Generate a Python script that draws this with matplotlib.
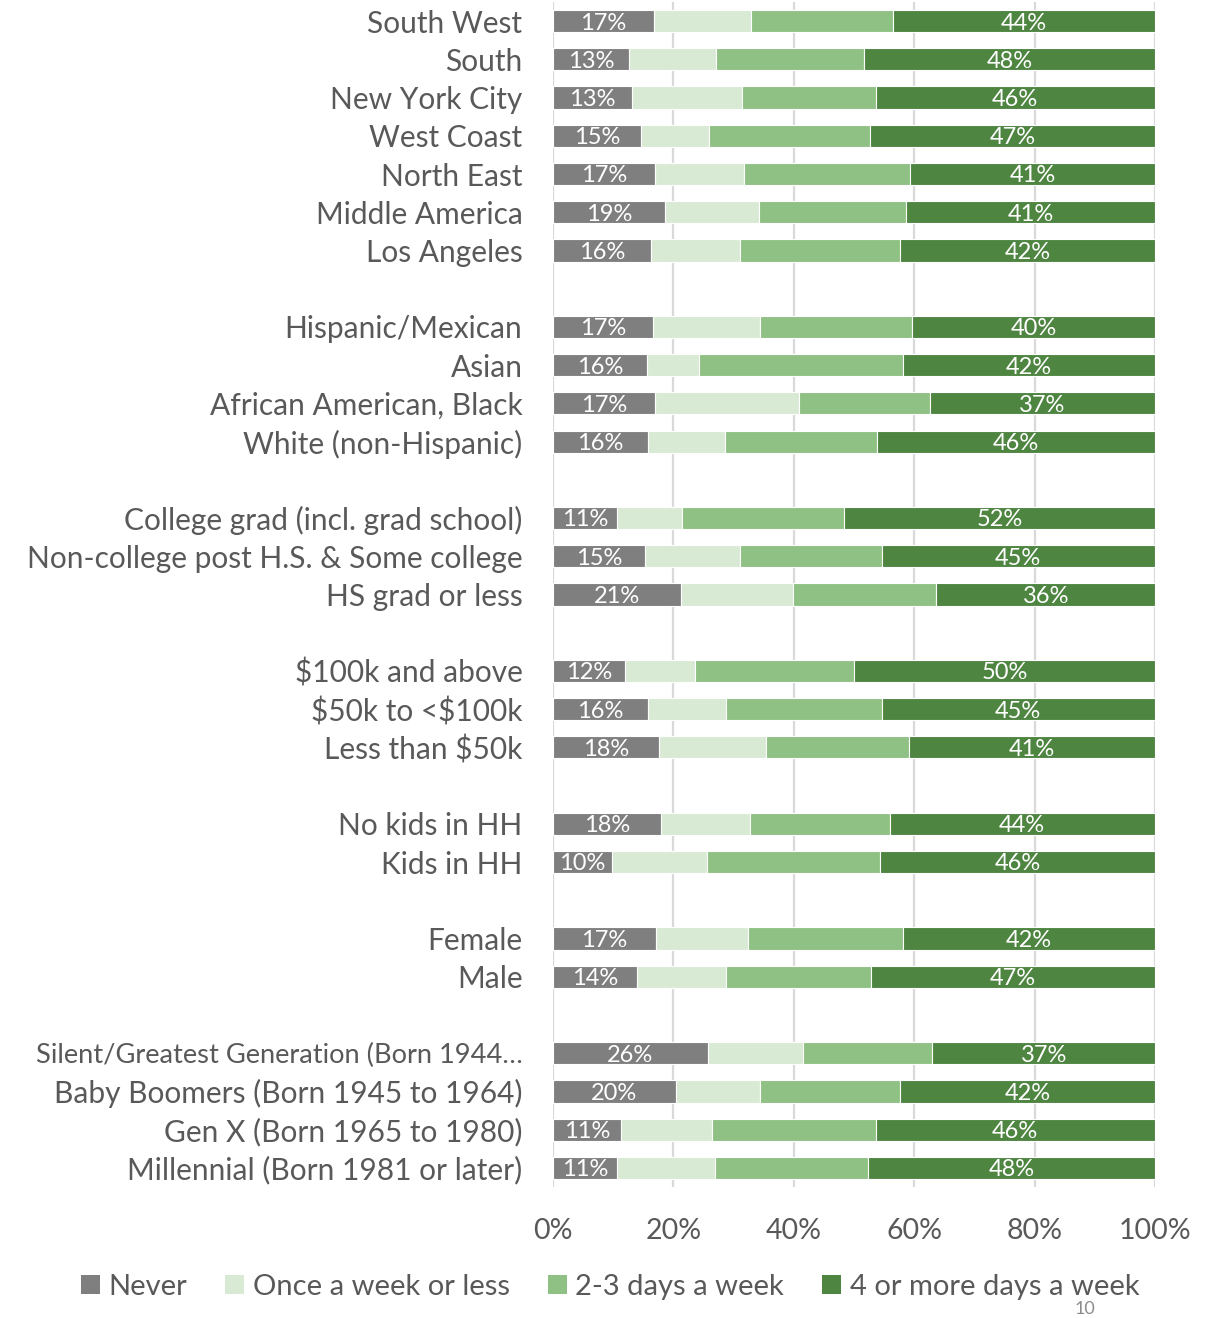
import numpy as np
import matplotlib.pyplot as plt
from matplotlib.patches import Patch

plt.rcParams['font.family'] = ['Lato', 'DejaVu Sans']
plt.rcParams['text.parse_math'] = False

# Categories, top to bottom, split into groups (a blank row between groups)
groups = [
    ["South West", "South", "New York City", "West Coast", "North East",
     "Middle America", "Los Angeles"],
    ["Hispanic/Mexican", "Asian", "African American, Black", "White (non-Hispanic)"],
    ["College grad (incl. grad school)", "Non-college post H.S. & Some college",
     "HS grad or less"],
    ["$100k and above", "$50k to <$100k", "Less than $50k"],
    ["No kids in HH", "Kids in HH"],
    ["Female", "Male"],
    ["Silent/Greatest Generation (Born 1944…", "Baby Boomers (Born 1945 to 1964)",
     "Gen X (Born 1965 to 1980)", "Millennial (Born 1981 or later)"],
]

series = ["Never", "Once a week or less", "2-3 days a week", "4 or more days a week"]

never = [16.8, 12.7, 13.2, 14.6, 16.9, 18.6, 16.2,
         16.6, 15.6, 17.0, 15.8,
         10.6, 15.2, 21.2,
         11.9, 15.7, 17.6,
         17.9, 9.8,
         17.1, 13.9,
         25.7, 20.4, 11.3, 10.6]
once = [16.1, 14.3, 18.2, 11.3, 14.9, 15.6, 14.8,
        17.8, 8.6, 23.8, 12.7,
        10.8, 15.8, 18.6,
        11.7, 13.0, 17.8,
        14.8, 15.7,
        15.3, 14.9,
        15.8, 14.0, 15.1, 16.3]
two_three = [23.5, 24.6, 22.2, 26.7, 27.5, 24.5, 26.6,
             25.3, 34.0, 21.8, 25.3,
             26.9, 23.6, 23.9,
             26.4, 25.9, 23.8,
             23.2, 28.9,
             25.7, 24.0,
             21.5, 23.2, 27.2, 25.4]
four_plus = [43.6, 48.4, 46.4, 47.4, 40.7, 41.3, 42.4,
             40.3, 41.8, 37.4, 46.2,
             51.7, 45.4, 36.3,
             50.0, 45.4, 40.8,
             44.1, 45.6,
             41.9, 47.2,
             37.0, 42.4, 46.4, 47.7]

colors = ["#7F7F7F", "#D9EAD4", "#8FC184", "#4E8541"]
text_gray = "#595959"

# row positions with one empty row between groups
labels, ypos = [], []
row = 0
for g in groups:
    for name in g:
        labels.append(name)
        ypos.append(row)
        row += 1
    row += 1
n_rows = row - 1
ypos = np.array(ypos)

fig = plt.figure(figsize=(12.2, 13.18), dpi=100)
ax = fig.add_axes([553 / 1220, 1 - 1187 / 1318, 602 / 1220, 1185 / 1318])

data = [np.array(never), np.array(once), np.array(two_three), np.array(four_plus)]
left = np.zeros(len(labels))
for vals, col, name in zip(data, colors, series):
    ax.barh(ypos, vals, left=left, height=0.58, color=col,
            edgecolor="white", linewidth=0.8, label=name, zorder=3)
    left = left + vals

# data labels on first and last segments
for idx in (0, 3):
    starts = sum(data[:idx]) if idx else np.zeros(len(labels))
    for y, s, v in zip(ypos, starts, data[idx]):
        ax.text(s + v / 2, y + 0.05, f"{round(v)}%", color="white",
                ha="center", va="center", fontsize=17, zorder=4)

ax.set_xlim(0, 100)
ax.set_ylim(n_rows - 0.5, -0.5)
ax.set_yticks(ypos)
ax.set_yticklabels(labels, fontsize=21.5, color=text_gray)
# the long generation label is narrower in the original font
for t in ax.get_yticklabels():
    if t.get_text().startswith("Silent"):
        t.set_fontsize(19.6)
ax.set_xticks(np.arange(0, 101, 20))
ax.set_xticklabels([f"{t}%" for t in range(0, 101, 20)], fontsize=20.5, color=text_gray)
ax.tick_params(axis="y", length=0, pad=22)
ax.tick_params(axis="x", length=0, pad=22)
ax.grid(axis="x", color="#D9D9D9", linewidth=1.6, zorder=0)
for sp in ax.spines.values():
    sp.set_visible(False)

handles = [Patch(facecolor=c, edgecolor="none") for c in colors]
fig.legend(handles, series, loc="center", bbox_to_anchor=(0.5, 1 - 1287 / 1318),
           ncol=4, frameon=False, fontsize=21, handlelength=0.65, handleheight=0.65,
           handletextpad=0.3, columnspacing=1.3, labelcolor=text_gray)

fig.text(1085 / 1220, 1 / 1318, "10", fontsize=13, color="#8C8C8C",
         ha="center", va="bottom")

fig.savefig("out.png", dpi=100)
